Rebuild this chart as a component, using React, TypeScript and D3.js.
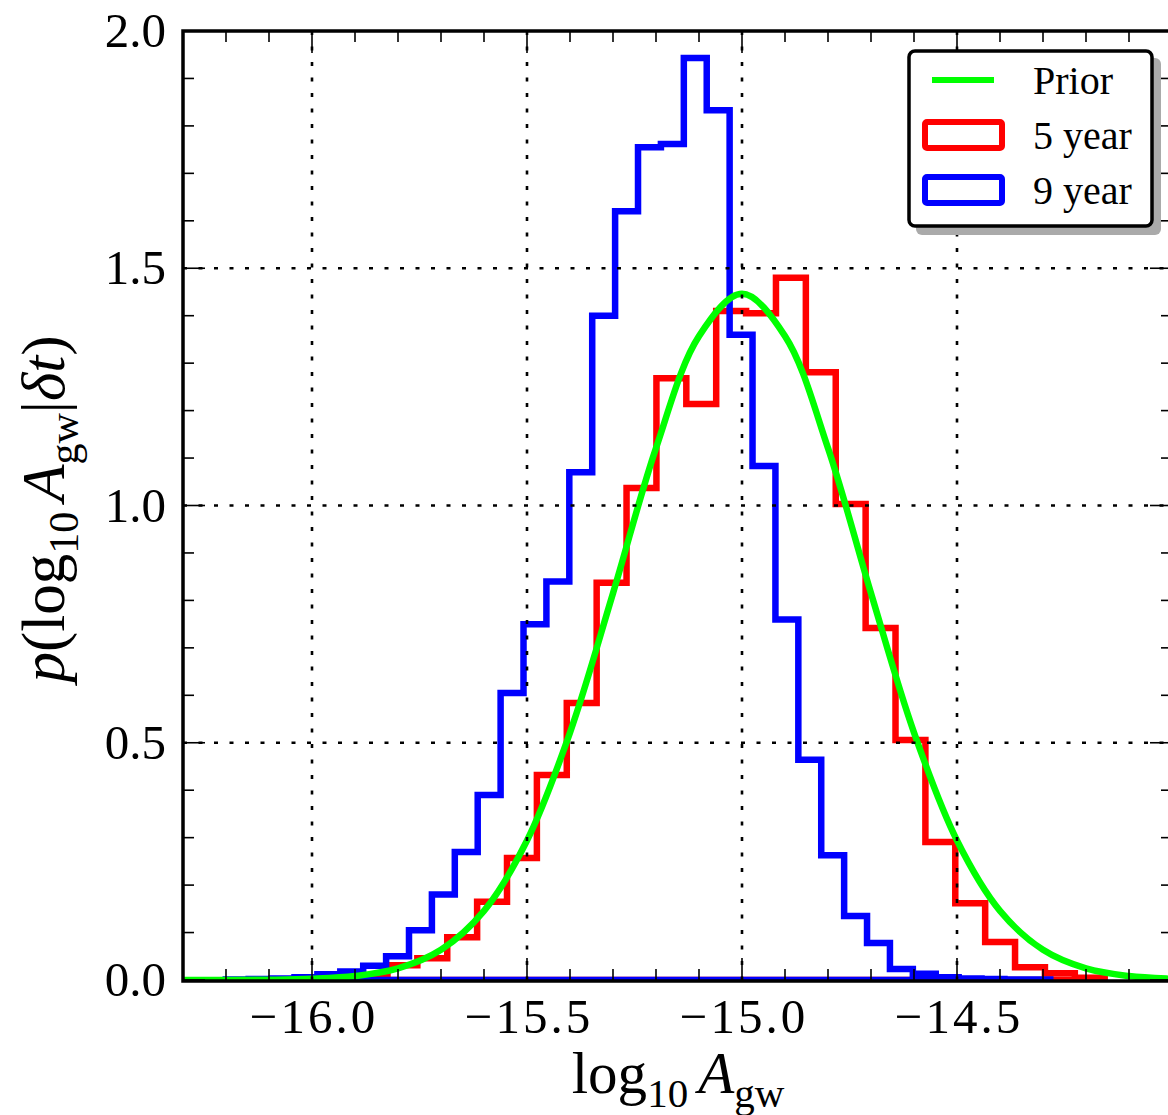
import React from 'react';
import * as d3 from 'd3';

const W = 1168;
const H = 1115;

// axis values
const xDomain: [number, number] = [-16.3, -14.0];
const yDomain: [number, number] = [0, 2];
const xMajorTicks = [-16.0, -15.5, -15.0, -14.5];
const xTickLabels = ['\u221216.0', '\u221215.5', '\u221215.0', '\u221214.5'];
const yMajorTicks = [0, 0.5, 1.0, 1.5, 2.0];
const yTickLabels = ['0.0', '0.5', '1.0', '1.5', '2.0'];

// 5 year histogram (red)
const red5Start = -16.033;
const red5Width = 0.0695;
const red5Values = [
  0.002, 0.005, 0.01, 0.031, 0.046, 0.09, 0.165, 0.257, 0.432, 0.584,
  0.837, 1.037, 1.268, 1.214, 1.41, 1.405, 1.48, 1.281, 1.003, 0.742,
  0.506, 0.291, 0.162, 0.08, 0.027, 0.014, 0.005,
];

// 9 year histogram (blue)
const blue9Start = -16.2005;
const blue9Width = 0.05326;
const blue9Values = [
  0.001, 0.002, 0.003, 0.006, 0.012, 0.018, 0.03, 0.05, 0.105, 0.18,
  0.27, 0.39, 0.605, 0.75, 0.84, 1.07, 1.4, 1.62, 1.755, 1.762,
  1.943, 1.833, 1.36, 1.083, 0.76, 0.464, 0.263, 0.135, 0.078, 0.023,
  0.013, 0.006, 0.003, 0.002, 0.001, 0.001,
];

// prior curve (green)
const priorX = [
  -16.3, -16.2, -16.1, -16.0, -15.9, -15.8, -15.7, -15.6, -15.5, -15.4,
  -15.3, -15.2, -15.1, -15.0, -14.9, -14.8, -14.7, -14.6, -14.5, -14.4,
  -14.3, -14.2, -14.1, -14.0, -13.9,
];
const priorY = [
  0.0, 0.0001, 0.0006, 0.0025, 0.0083, 0.0244, 0.0636, 0.1457, 0.294, 0.5215,
  0.815, 1.121, 1.357, 1.446, 1.357, 1.121, 0.815, 0.5215, 0.294, 0.1457,
  0.0636, 0.0244, 0.0083, 0.0025, 0.0006,
];

const legendLabels = ['Prior', '5 year', '9 year'];

const FONT = '"Liberation Serif", "DejaVu Serif", serif';

function histPoints(start: number, width: number, vals: number[]): [number, number][] {
  const pts: [number, number][] = [[start, 0]];
  vals.forEach((v, i) => {
    pts.push([start + i * width, v]);
    pts.push([start + (i + 1) * width, v]);
  });
  pts.push([start + vals.length * width, 0]);
  return pts;
}

export default function App() {
  const left = 183;
  const right = 1172;
  const top = 31;
  const bottom = 980;

  const x = d3.scaleLinear().domain(xDomain).range([left, right]);
  const y = d3.scaleLinear().domain(yDomain).range([bottom, top]);

  const line = d3
    .line<[number, number]>()
    .x((d) => x(d[0]))
    .y((d) => y(d[1]));

  const redPath = line(histPoints(red5Start, red5Width, red5Values)) + 'Z';
  const bluePath = line(histPoints(blue9Start, blue9Width, blue9Values)) + 'Z';
  const priorPath = d3
    .line<number>()
    .x((_, i) => x(priorX[i]))
    .y((d) => y(d))
    .curve(d3.curveCatmullRom)(priorY);

  const xMinor = d3.range(-16.3, -13.99, 0.1).filter(
    (v) => !xMajorTicks.some((m) => Math.abs(m - v) < 1e-6)
  );
  const yMinor = d3.range(0, 2.001, 0.1).filter(
    (v) => !yMajorTicks.some((m) => Math.abs(m - v) < 1e-6)
  );

  const majorLen = 22;
  const minorLen = 11;
  const tickW = 1.6;

  const gridDash = '4 11.5';

  return (
    <svg
      width={W}
      height={H}
      viewBox={`0 0 ${W} ${H}`}
      style={{ position: 'absolute', left: 0, top: 0, background: '#fff' }}
      fontFamily={FONT}
    >
      <defs>
        <clipPath id="plotClip">
          <rect x={left} y={top} width={right - left} height={bottom - top} />
        </clipPath>
      </defs>
      <rect x={0} y={0} width={W} height={H} fill="#fff" />

      <g clipPath="url(#plotClip)">
        <path d={redPath} fill="none" stroke="#ff0000" strokeWidth={6.5} strokeLinejoin="miter" />
        <path d={bluePath} fill="none" stroke="#0000ff" strokeWidth={6.5} strokeLinejoin="miter" />
        <path d={priorPath || ''} fill="none" stroke="#00ff00" strokeWidth={6.5} />
      </g>

      {/* grid */}
      <g stroke="#000" strokeWidth={2.6} strokeDasharray={gridDash}>
        {xMajorTicks.map((v) => (
          <line key={'gx' + v} x1={x(v)} x2={x(v)} y1={top} y2={bottom} />
        ))}
        {yMajorTicks.slice(1, 4).map((v) => (
          <line key={'gy' + v} x1={left} x2={right} y1={y(v)} y2={y(v)} />
        ))}
      </g>

      {/* ticks */}
      <g stroke="#000" strokeWidth={tickW}>
        {xMajorTicks.map((v) => (
          <g key={'tx' + v}>
            <line x1={x(v)} x2={x(v)} y1={bottom} y2={bottom - majorLen} />
            <line x1={x(v)} x2={x(v)} y1={top} y2={top + majorLen} />
          </g>
        ))}
        {xMinor.map((v) => (
          <g key={'txm' + v}>
            <line x1={x(v)} x2={x(v)} y1={bottom} y2={bottom - minorLen} />
            <line x1={x(v)} x2={x(v)} y1={top} y2={top + minorLen} />
          </g>
        ))}
        {yMajorTicks.map((v) => (
          <g key={'ty' + v}>
            <line x1={left} x2={left + majorLen} y1={y(v)} y2={y(v)} />
            <line x1={right} x2={right - majorLen} y1={y(v)} y2={y(v)} />
          </g>
        ))}
        {yMinor.map((v) => (
          <g key={'tym' + v}>
            <line x1={left} x2={left + minorLen} y1={y(v)} y2={y(v)} />
            <line x1={right} x2={right - minorLen} y1={y(v)} y2={y(v)} />
          </g>
        ))}
      </g>

      {/* spines */}
      <rect
        x={left}
        y={top}
        width={right - left}
        height={bottom - top + 1}
        fill="none"
        stroke="#000"
        strokeWidth={3.5}
      />

      {/* tick labels */}
      <g fontSize={49} fill="#000">
        {xMajorTicks.map((v, i) => (
          <text key={'lx' + v} x={x(v) + 2} y={1033} textAnchor="middle" letterSpacing={3}>
            {xTickLabels[i]}
          </text>
        ))}
        {yMajorTicks.map((v, i) => (
          <text key={'ly' + v} x={166} y={y(v) + 16} textAnchor="end">
            {yTickLabels[i]}
          </text>
        ))}
      </g>

      {/* x label */}
      <text x={678} y={1093} textAnchor="middle" fontSize={59} fill="#000">
        <tspan>log</tspan>
        <tspan fontSize={41} dy={14}>10</tspan>
        <tspan dy={-14} dx={10} fontStyle="italic">A</tspan>
        <tspan fontSize={41} dy={14}>gw</tspan>
      </text>

      {/* y label */}
      <text
        transform="translate(64,509) rotate(-90)"
        textAnchor="middle"
        fontSize={61}
        fill="#000"
      >
        <tspan fontStyle="italic">p</tspan>
        <tspan>(log</tspan>
        <tspan fontSize={42} dy={14}>10</tspan>
        <tspan dy={-14} dx={10} fontStyle="italic">A</tspan>
        <tspan fontSize={42} dy={14}>gw</tspan>
        <tspan dy={-14}>|</tspan>
        <tspan fontStyle="italic">δt</tspan>
        <tspan>)</tspan>
      </text>

      {/* legend */}
      <g>
        <rect x={916} y={58} width={245} height={177} rx={6} fill="#aaaaaa" />
        <rect x={909} y={51} width={243} height={175} rx={6} fill="#fff" stroke="#000" strokeWidth={3.5} />
        <line x1={932} x2={994} y1={80} y2={80} stroke="#00ff00" strokeWidth={6} />
        <rect x={925} y={122} width={77} height={26} rx={2} fill="none" stroke="#ff0000" strokeWidth={6} />
        <rect x={925} y={177} width={77} height={26} rx={2} fill="none" stroke="#0000ff" strokeWidth={6} />
        <g fontSize={40} fill="#000">
          <text x={1033} y={94}>{legendLabels[0]}</text>
          <text x={1033} y={149}>{legendLabels[1]}</text>
          <text x={1033} y={204}>{legendLabels[2]}</text>
        </g>
      </g>
    </svg>
  );
}
